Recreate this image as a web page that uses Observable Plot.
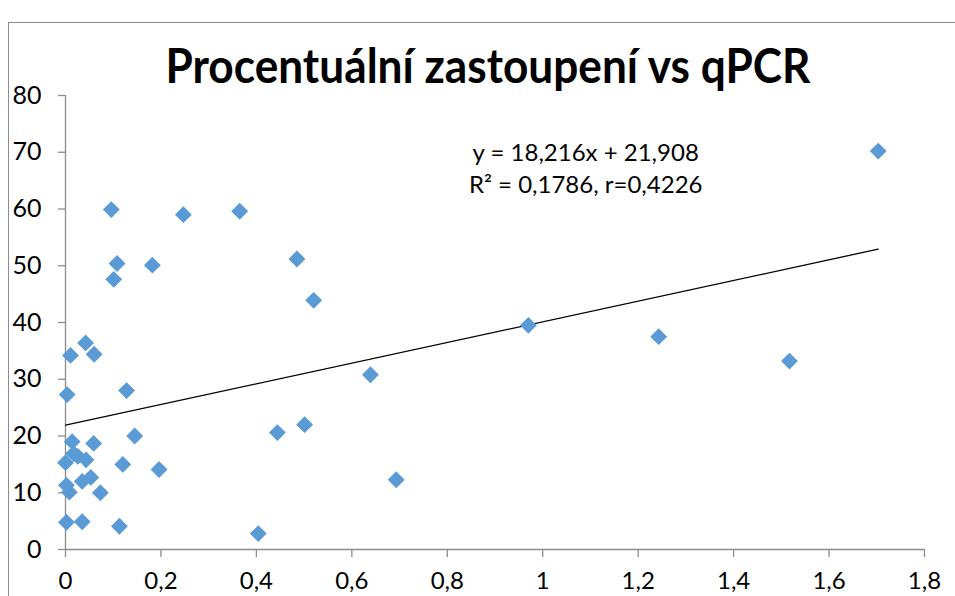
<!DOCTYPE html>
<html>
<head>
<meta charset="utf-8">
<script src="https://cdn.jsdelivr.net/npm/d3@7"></script>
<script src="https://cdn.jsdelivr.net/npm/@observablehq/plot@0.6"></script>
<style>
  html, body { margin: 0; padding: 0; background: #fff; }
  #wrap { position: relative; width: 955px; height: 596px; overflow: hidden; background: #fff; }
  #frame { position: absolute; left: 8px; top: 22px; width: 1200px; height: 1200px; border: 1px solid #8c8c8c; box-sizing: border-box; }
  #chart { position: absolute; left: 0; top: 0; }
  #title { position: absolute; left: 0; top: 0; }
</style>
</head>
<body>
<div id="wrap">
  <div id="frame"></div>
  <div id="chart"></div>
  <svg id="title" width="955" height="110"></svg>
</div>
<script>
// ---- data ----
const titleText = "Procentuální zastoupení vs qPCR";
const xValues = [0.002, 0.035, 0.113, 0.404, 0.008, 0.073, 0.002, 0.035, 0.053, 0.693,
                 0.196, 0.120, 0.000, 0.043, 0.026, 0.017, 0.014, 0.059, 0.145, 0.444,
                 0.501, 0.0035, 0.128, 0.639, 0.0105, 0.060, 0.042, 0.970, 1.243, 1.517,
                 0.520, 0.485, 0.101, 0.108, 0.182, 0.096, 0.247, 0.365, 1.703];
const yValues = [4.8, 4.9, 4.1, 2.8, 10.1, 10.0, 11.3, 12.0, 12.7, 12.3,
                 14.1, 15.0, 15.3, 15.8, 16.4, 16.9, 19.0, 18.7, 20.0, 20.6,
                 22.0, 27.3, 28.0, 30.8, 34.2, 34.4, 36.4, 39.5, 37.5, 33.2,
                 43.9, 51.2, 47.6, 50.4, 50.1, 59.9, 59.0, 59.6, 70.2];
const trendCoef = [18.216, 21.908]; // slope, intercept (stated on the chart)
const equationLines = ["y = 18,216x + 21,908", "R² = 0,1786, r=0,4226"];
const equationY = [69.8, 64.1];
const xTicks = [0, 0.2, 0.4, 0.6, 0.8, 1, 1.2, 1.4, 1.6, 1.8];
const xTickLabels = ["0", "0,2", "0,4", "0,6", "0,8", "1", "1,2", "1,4", "1,6", "1,8"];
const yTicks = [0, 10, 20, 30, 40, 50, 60, 70, 80];

// ---- derived tables ----
const points = xValues.map((x, i) => ({x, y: yValues[i]}));
const trendX = [0, d3.max(xValues)];
const trend = trendX.map(x => ({x, y: trendCoef[0] * x + trendCoef[1]}));
const equation = equationLines.map((t, i) => ({t, y: equationY[i]}));

const FONT = "Lato, 'Open Sans', sans-serif";
const axisColor = "#8c8c8c";

const plot = Plot.plot({
  width: 955,
  height: 596,
  marginLeft: 65,
  marginRight: 31,
  marginTop: 95,
  marginBottom: 47,
  style: {fontFamily: FONT, fontSize: "24px", color: "#000", background: "transparent", overflow: "visible"},
  x: {domain: [0, 1.8]},
  y: {domain: [0, 80]},
  marks: [
    Plot.ruleX([0], {stroke: axisColor, strokeWidth: 1.3}),
    Plot.ruleY([0], {stroke: axisColor, strokeWidth: 1.3}),
    Plot.axisX({ticks: xTicks, tickFormat: d => xTickLabels[xTicks.indexOf(d)], tickSize: 8, tickPadding: 14,
                stroke: axisColor, strokeWidth: 1.3, fill: "#000", label: null, fontSize: 24}),
    Plot.axisY({ticks: yTicks, tickFormat: d => String(d), tickSize: 7, tickPadding: 17,
                stroke: axisColor, strokeWidth: 1.3, fill: "#000", label: null, fontSize: 25}),
    Plot.line(trend, {x: "x", y: "y", stroke: "#000", strokeWidth: 1.3}),
    Plot.dot(points, {x: "x", y: "y", symbol: "diamond2", r: 7.6, fill: "#5b9bd5", stroke: "none"}),
    Plot.text(equation, {x: 1.09, y: "y", text: "t", fontSize: 24, fill: "#000", textAnchor: "middle"})
  ]
});
document.getElementById("chart").appendChild(plot);

// title as real SVG text, compressed horizontally to mimic a narrow face
const tsvg = d3.select("#title");
tsvg.append("text")
  .attr("x", 488).attr("y", 83)
  .attr("text-anchor", "middle")
  .attr("font-family", FONT)
  .attr("font-weight", "bold")
  .attr("font-size", 47)
  .attr("textLength", 645)
  .attr("lengthAdjust", "spacingAndGlyphs")
  .attr("fill", "#000")
  .text(titleText);
</script>
</body>
</html>
